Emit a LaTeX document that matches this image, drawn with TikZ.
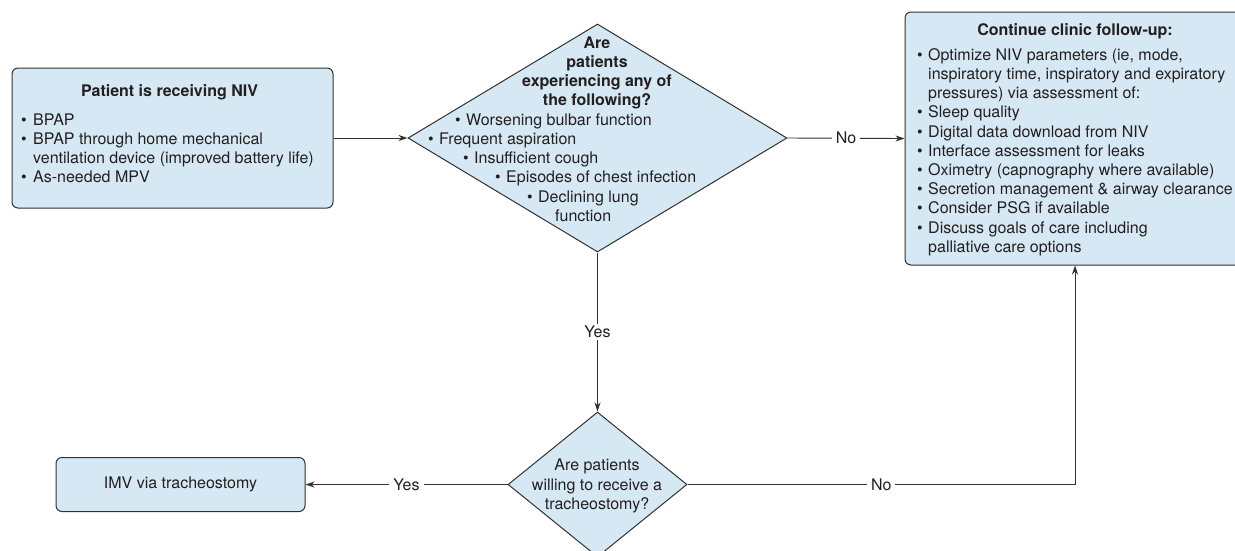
\documentclass[tikz,border=0pt]{standalone}
\usepackage{fontspec}
\setmainfont{TeX Gyre Heros}
\usetikzlibrary{shapes.geometric,arrows.meta}
\definecolor{boxfill}{RGB}{214,232,244}
\definecolor{linecol}{RGB}{50,50,50}
\definecolor{txtcol}{RGB}{35,31,32}
\newcommand\bul{\makebox[12pt][l]{•}}
\newcommand\bulb{\makebox[11pt][l]{•}}
\newcommand\ind{\hspace*{12pt}}
\begin{document}
\begin{tikzpicture}[x=1pt,y=-1pt,
  every node/.style={font=\fontsize{16}{19.2}\selectfont, text=txtcol, inner sep=0pt},
  box/.style={draw=linecol, fill=boxfill, rounded corners=6pt, line width=1pt},
  dec/.style={draw=linecol, fill=boxfill, diamond, line width=1pt},
  ttl/.style={font=\fontsize{16}{19.2}\selectfont\bfseries},
  txt/.style={align=left, anchor=north west},
  arr/.style={draw=linecol, line width=0.9pt, -{Stealth[length=9pt,width=6pt]}},
  lbl/.style={fill=white, inner xsep=4pt, inner ysep=2pt}]
\useasboundingbox (0,0) rectangle (1235,550);
% boxes
\node[box, minimum width=321pt, minimum height=140pt] (niv) at (172.5,138) {};
\node[ttl] (nivttl) at (169.5,92) {Patient is receiving NIV};
\node[txt] (nivtxt) at (21,111.6) {\strut\bul BPAP\\
  \bul BPAP through home mechanical\\
  \ind ventilation device (improved battery life)\\
  \bul As-needed MPV};

\node[box, minimum width=340pt, minimum height=253pt] (cont) at (1075,138.5) {};
\node[ttl] (contttl) at (1075,31) {Continue clinic follow-up:};
\node[txt] (conttxt) at (917,46.6) {\strut\bulb Optimize NIV parameters (ie, mode,\\
  \hspace*{11pt}inspiratory time, inspiratory and expiratory\\
  \hspace*{11pt}pressures) via assessment of:\\
  \bulb Sleep quality\\
  \bulb Digital data download from NIV\\
  \bulb Interface assessment for leaks\\
  \bulb Oximetry (capnography where available)\\
  \bulb Secretion management \& airway clearance\\
  \bulb Consider PSG if available\\
  \bulb Discuss goals of care including\\
  \hspace*{11pt}palliative care options};

\node[dec, minimum width=379pt, minimum height=228pt] (d1) at (597.5,138) {};
\node[ttl, align=center, anchor=north] (d1ttl) at (597,34.6) {\strut Are\\patients\\experiencing any of\\the following?};
\node[txt] (d1txt) at (428,111.6) {\strut\hspace*{27pt}\bulb Worsening bulbar function\\
  \bulb Frequent aspiration\\
  \hspace*{35pt}\bulb Insufficient cough\\
  \hspace*{67pt}\bulb Episodes of chest infection\\
  \hspace*{99pt}\bulb Declining lung\\
  \hspace*{127pt}function};

\node[dec, minimum width=179pt, minimum height=145pt] (d2) at (597.5,484.5) {};
\node[align=center] (d2txt) at (597,486) {Are patients\\willing to receive a\\tracheostomy?};

\node[box, minimum width=249pt, minimum height=54pt] (imv) at (180.5,484.5) {};
\node (imvtxt) at (180.5,484.5) {IMV via tracheostomy};

% connectors
\draw[arr] (niv.east) -- (d1.west);
\draw[arr] (d1.east) -- node[lbl] {No} (cont.west);
\draw[arr] (d1.south) -- node[lbl] {Yes} (d2.north);
\draw[arr] (d2.west) -- node[lbl] {Yes} (imv.east);
\draw[arr] (d2.east) -| node[lbl, pos=0.25] {No} (cont.south);
\end{tikzpicture}
\end{document}
